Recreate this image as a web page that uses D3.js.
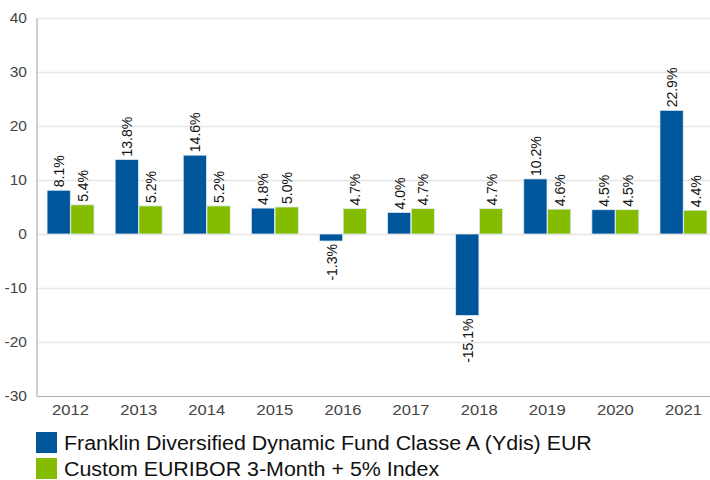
<!DOCTYPE html>
<html>
<head>
<meta charset="utf-8">
<script src="https://cdn.jsdelivr.net/npm/d3@7"></script>
<style>
  body { margin: 0; background: #fff; }
  svg { display: block; font-family: Arial, "Liberation Sans", sans-serif; }
</style>
</head>
<body>
<div id="chart"></div>
<script>
// data
const years = ['2012', '2013', '2014', '2015', '2016', '2017', '2018', '2019', '2020', '2021'];
const fundValues = [8.1, 13.8, 14.6, 4.8, -1.3, 4.0, -15.1, 10.2, 4.5, 22.9];
const indexValues = [5.4, 5.2, 5.2, 5.0, 4.7, 4.7, 4.7, 4.6, 4.5, 4.4];
const seriesNames = ['Franklin Diversified Dynamic Fund Classe A (Ydis) EUR', 'Custom EURIBOR 3-Month + 5% Index'];
const seriesColors = ['#00569b', '#84bd00'];
const yTicks = [-30, -20, -10, 0, 10, 20, 30, 40];

const width = 710, height = 480;
const plotLeft = 36.5, plotRight = 717.5, plotTop = 18, plotBottom = 396;
const stretch = 1.07; // the source text is a bit wider than plain Arial

const svg = d3.select('#chart').append('svg')
    .attr('width', width)
    .attr('height', height);

const y = d3.scaleLinear().domain([-30, 40]).range([plotBottom, plotTop]);

const x0 = d3.scaleBand()
    .domain(years)
    .range([plotLeft, plotRight])
    .paddingInner(0.31)
    .paddingOuter(0.155);

const x1 = d3.scaleBand()
    .domain([0, 1])
    .range([0, x0.bandwidth()])
    .paddingInner(0.02);

// grid lines
svg.append('g')
    .selectAll('line')
    .data(yTicks.filter(d => d !== -30))
    .enter()
    .append('line')
    .attr('x1', plotLeft)
    .attr('x2', width)
    .attr('y1', d => Math.round(y(d)) + 0.5)
    .attr('y2', d => Math.round(y(d)) + 0.5)
    .attr('stroke', '#e6e6e6')
    .attr('stroke-width', 1.5);

// y axis
const yAxis = svg.append('g')
    .attr('transform', 'translate(' + plotLeft + ',0)')
    .call(d3.axisLeft(y).tickValues(yTicks).tickFormat(d => String(d)).tickSize(0).tickPadding(9));
yAxis.select('.domain').attr('stroke', '#b0b0b0').attr('stroke-width', 1.2);
yAxis.selectAll('text')
    .attr('fill', '#444')
    .attr('transform', 'scale(' + stretch + ',1)')
    .style('font-size', '14.5px');

// x axis
const xAxis = svg.append('g')
    .attr('transform', 'translate(0,' + plotBottom + ')')
    .call(d3.axisBottom(x0).tickSize(0).tickPadding(8));
xAxis.select('.domain').attr('stroke', '#b0b0b0').attr('stroke-width', 1.2);
xAxis.selectAll('text')
    .attr('fill', '#444')
    .attr('transform', 'scale(' + stretch + ',1)')
    .style('font-size', '15.5px');

const rows = years.map((yr, i) => ({ year: yr, values: [fundValues[i], indexValues[i]] }));

const groups = svg.append('g')
    .selectAll('g')
    .data(rows)
    .enter()
    .append('g')
    .attr('transform', d => 'translate(' + x0(d.year) + ',0)');

groups.selectAll('rect')
    .data(d => d.values.map((v, k) => ({ v: v, k: k })))
    .enter()
    .append('rect')
    .attr('x', d => x1(d.k))
    .attr('y', d => y(Math.max(0, d.v)))
    .attr('width', x1.bandwidth())
    .attr('height', d => Math.abs(y(d.v) - y(0)))
    .attr('fill', d => seriesColors[d.k])
    .attr('stroke', '#dfe9f2')
    .attr('stroke-width', 0.8);

// value labels
groups.selectAll('text')
    .data(d => d.values.map((v, k) => ({ v: v, k: k })))
    .enter()
    .append('text')
    .attr('transform', d => {
        const cx = x1(d.k) + x1.bandwidth() / 2 + 5.5;
        const cy = d.v >= 0 ? y(d.v) - 3 : y(d.v) + 3;
        return 'translate(' + cx + ',' + cy + ') scale(' + stretch + ',1) rotate(-90)';
    })
    .attr('text-anchor', d => d.v >= 0 ? 'start' : 'end')
    .style('font-size', '14px')
    .attr('fill', '#111')
    .text(d => d.v.toFixed(1) + '%');

// legend
const legend = svg.append('g')
    .selectAll('g')
    .data(seriesNames)
    .enter()
    .append('g')
    .attr('transform', (d, i) => 'translate(36,' + (432 + i * 26) + ')');

legend.append('rect')
    .attr('width', 21)
    .attr('height', 21)
    .attr('fill', (d, i) => seriesColors[i]);

legend.append('text')
    .attr('transform', 'translate(28,18) scale(' + stretch + ',1)')
    .style('font-size', '20px')
    .attr('fill', '#111')
    .text(d => d);
</script>
</body>
</html>
